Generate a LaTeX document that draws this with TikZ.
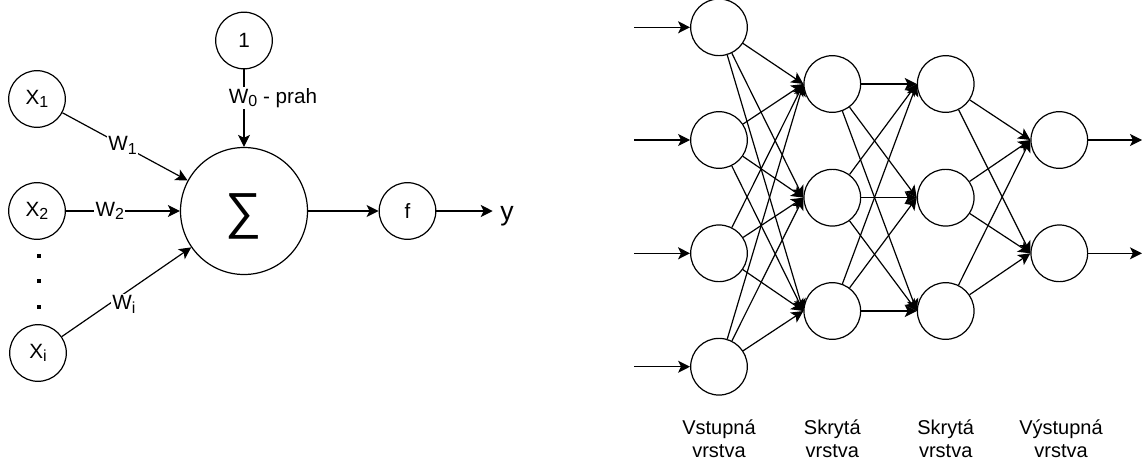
\documentclass[tikz,border=0pt]{standalone}
\usepackage{fontspec}
\setmainfont{Liberation Sans}
\usetikzlibrary{arrows.meta}
\newcommand\lowidx[1]{\raisebox{-2.5pt}{\fontsize{12pt}{12pt}\selectfont #1}}
\begin{document}
\begin{tikzpicture}[x=0.75pt,y=-0.75pt,
  neuron/.style={circle,draw,line width=0.9pt,minimum size=42.5pt,inner sep=0pt,font=\fontsize{15.5pt}{18pt}\selectfont},
  conn/.style={line width=0.9pt,-{Stealth[length=9pt,width=9pt,inset=2.2pt]}},
  wlabel/.style={fill=white,inner sep=1pt,font=\fontsize{15.5pt}{18pt}\selectfont},
  layerlabel/.style={align=center,inner sep=0pt,anchor=north,font=\fontsize{15pt}{17.25pt}\selectfont}]
\useasboundingbox (0,0) rectangle (1142,461);

% ---------- single neuron ----------
\node[neuron] (x1) at (37,99) {X\lowidx{1}};
\node[neuron] (x2) at (37,211) {X\lowidx{2}};
\node[neuron] (xi) at (38,353) {X\lowidx{i}};
\fill (37.3,254.3) rectangle ++(3.4,3.4);
\fill (37.3,279.3) rectangle ++(3.4,3.4);
\fill (37.3,305.3) rectangle ++(3.4,3.4);

\node[neuron] (one) at (244,40.5) {1};
\node[neuron,minimum size=95.25pt] (sum) at (244,211) {};
\node[font=\fontsize{38pt}{38pt}\selectfont,inner sep=0pt] (sigma) at (244,216) {∑};
\node[neuron] (f) at (407.5,211) {f};
\node[font=\fontsize{20pt}{22pt}\selectfont,inner ysep=0pt,inner xsep=5.5pt] (yout) at (507,216) {y};

\draw[conn] (x1) -- node[wlabel,pos=0.48] (lw1) {W\lowidx{1}} (sum);
\draw[conn] (x2) -- node[wlabel,pos=0.385] (lw2) {W\lowidx{2}} (sum);
\draw[conn] (xi) -- node[wlabel,pos=0.48,yshift=-8pt] (lwi) {W\lowidx{i}} (sum);
\draw[conn] (one) -- node[wlabel,pos=0.37,xshift=21.75pt] (lw0) {W\lowidx{0} - prah} (sum);
\draw[conn] (sum) -- (f);
\draw[conn] (f) -- (f -| yout.west);

% ---------- network ----------
\foreach \n/\y in {1/27.3,2/140,3/253.3,4/366.7}{
  \node[neuron] (i\n) at (719,\y) {};
  \coordinate (s\n) at (634,\y);
  \draw[conn] (s\n) -- (i\n);
}
\foreach \n/\y in {1/84,2/197.7,3/311}{
  \node[neuron] (a\n) at (832.3,\y) {};
  \node[neuron] (b\n) at (945.7,\y) {};
}
\foreach \n/\y in {1/140,2/253.3}{
  \node[neuron] (o\n) at (1059.3,\y) {};
  \coordinate (e\n) at (1142,\y);
  \draw[conn] (o\n) -- (e\n);
}
\foreach \s in {1,2,3,4}{\foreach \t in {1,2,3}{\draw[conn] (i\s) -- (a\t.west);}}
\foreach \s in {1,2,3}{\foreach \t in {1,2,3}{\draw[conn] (a\s) -- (b\t.west);}}
\foreach \s in {1,2,3}{\foreach \t in {1,2}{\draw[conn] (b\s) -- (o\t.west);}}

\node[layerlabel] (l1) at (719,419) {Vstupná\\vrstva};
\node[layerlabel] (l2) at (832.3,419) {Skrytá\\vrstva};
\node[layerlabel] (l3) at (945.7,419) {Skrytá\\vrstva};
\node[layerlabel] (l4) at (1061,419) {Výstupná\\vrstva};
\end{tikzpicture}
\end{document}
